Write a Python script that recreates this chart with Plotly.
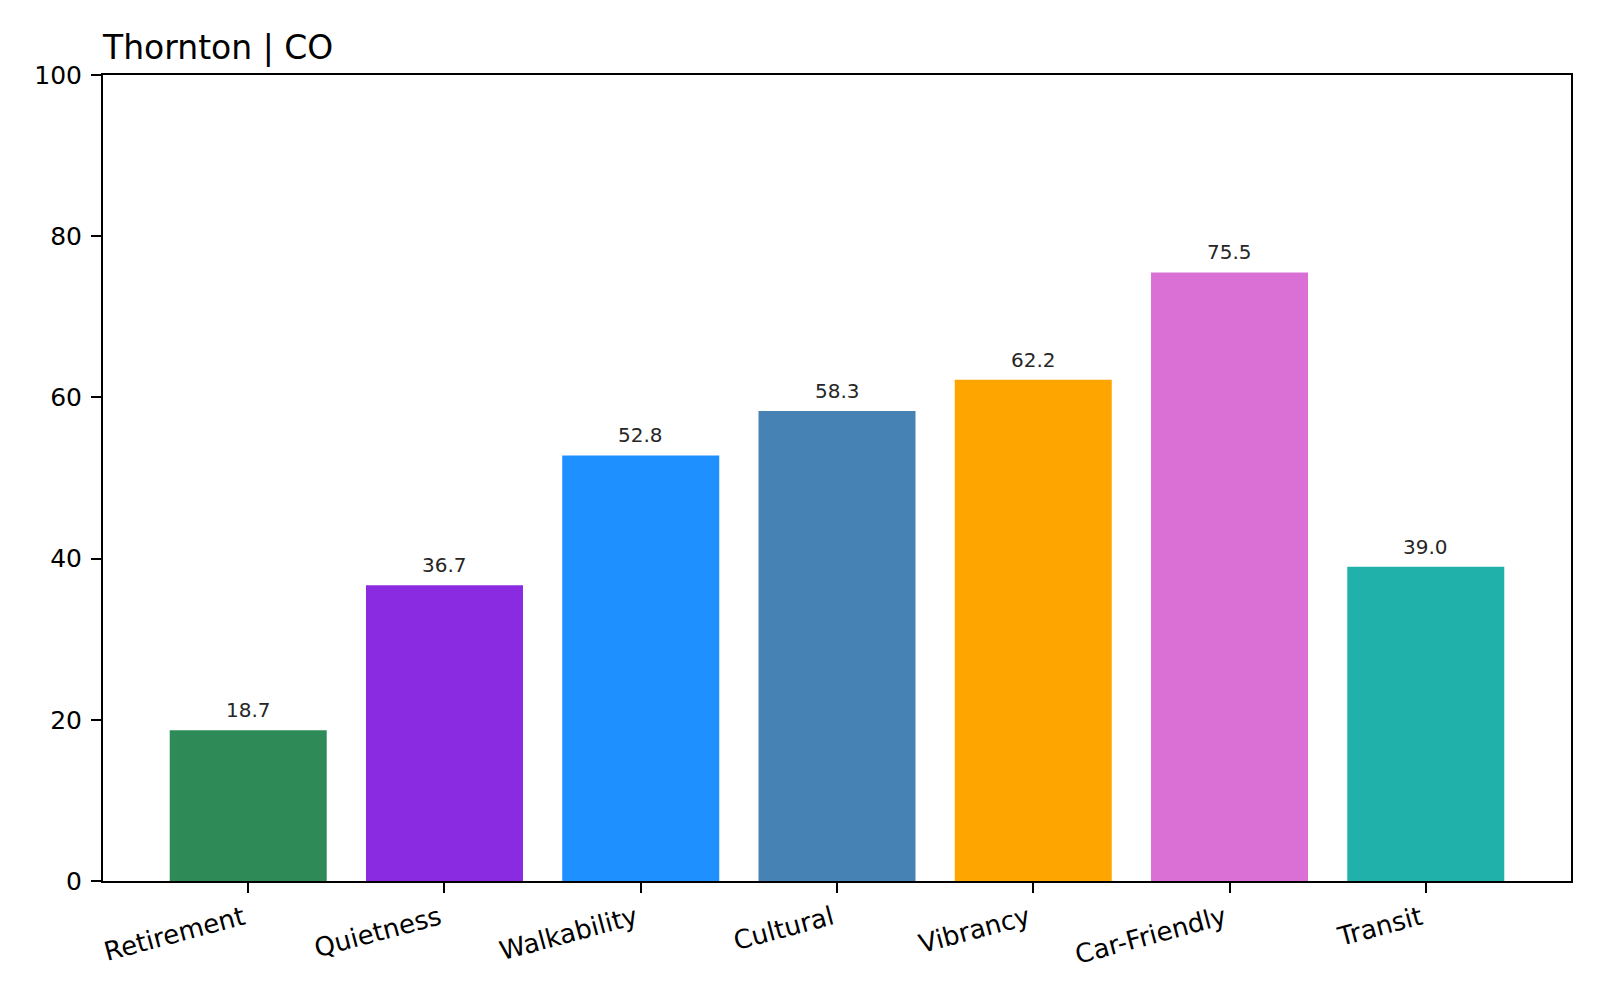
import plotly.graph_objects as go

# scores per category
categories = ["Retirement", "Quietness", "Walkability", "Cultural", "Vibrancy", "Car-Friendly", "Transit"]
scores = [18.7, 36.7, 52.8, 58.3, 62.2, 75.5, 39.0]
bar_colors = ["#2E8B57", "#8A2BE2", "#1E90FF", "#4682B4", "#FFA500", "#DA70D6", "#20B2AA"]
y_ticks = [0, 20, 40, 60, 80, 100]

font_family = "DejaVu Sans"

fig = go.Figure(
    data=go.Bar(
        x=categories,
        y=scores,
        marker=dict(color=bar_colors, line=dict(width=0)),
        width=0.8,
        hoverinfo="x+y",
    )
)

# value labels above each bar
for cat, val in zip(categories, scores):
    fig.add_annotation(
        x=cat, y=val, text=f"{val:.1f}",
        showarrow=False, yanchor="bottom", yshift=6,
        font=dict(family=font_family, size=20, color="#262626"),
    )

# page body adds 8px, margins are set to compensate
fig.update_layout(
    width=1600,
    height=1000,
    paper_bgcolor="white",
    plot_bgcolor="white",
    margin=dict(l=95, r=37, t=67, b=127),
    showlegend=False,
    font=dict(family=font_family, color="black"),
    title=dict(
        text="Thornton | CO",
        font=dict(family=font_family, size=33, color="black"),
        x=0, xref="paper", xanchor="left",
        y=1, yref="paper", yanchor="bottom",
        pad=dict(b=16, l=0),
    ),
    xaxis=dict(
        range=[-0.74, 6.74],
        tickangle=-15,
        tickfont=dict(size=26, color="black"),
        ticklabelshift=-5,
        showline=True, linecolor="black", linewidth=2, mirror=True,
        ticks="outside", ticklen=10, tickwidth=2, tickcolor="black",
        showgrid=False, zeroline=False,
    ),
    yaxis=dict(
        range=[0, 100],
        tickvals=y_ticks,
        tickfont=dict(size=25, color="black"),
        ticklabelstandoff=4,
        showline=True, linecolor="black", linewidth=2, mirror=True,
        ticks="outside", ticklen=10, tickwidth=2, tickcolor="black",
        showgrid=False, zeroline=False,
    ),
)

fig.write_html("out.html")
